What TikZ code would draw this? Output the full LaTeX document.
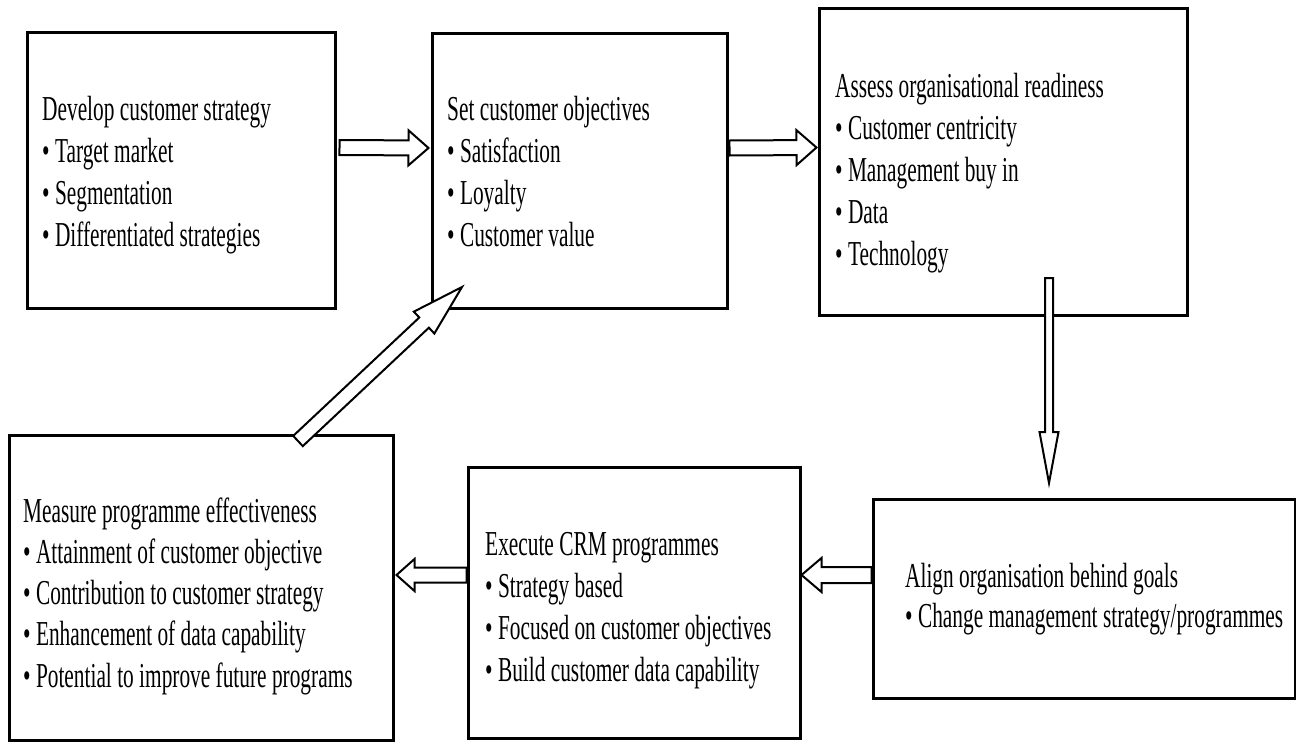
\documentclass[tikz,border=0pt]{standalone}
\usepackage{fontspec}
\usepackage{graphicx}
\setmainfont{Liberation Serif}
\usetikzlibrary{calc}
\newcommand{\boxlines}[1]{\scalebox{0.61}[1]{\begin{tabular}[t]{@{}l@{}}#1\end{tabular}}}
\tikzset{
  box/.style={draw=black, line width=3pt, inner sep=0pt, fill=none},
  txt/.style={anchor=base west, inner sep=0pt, font=\fontsize{35}{42}\selectfont},
  arrowline/.style={draw=black, fill=white, line width=2pt, line join=miter},
}
% block arrow: from, to, shaft half width, head half width, head length
\newcommand{\blockarr}[5]{%
  \coordinate (bah) at ($(#2)!#5!(#1)$);
  \draw[arrowline]
    ($(#1)!#3!90:(#2)$) -- ($(bah)!#3!90:(#2)$) -- ($(bah)!#4!90:(#2)$) --
    (#2) -- ($(bah)!#4!-90:(#2)$) -- ($(bah)!#3!-90:(#2)$) --
    ($(#1)!#3!-90:(#2)$) -- cycle;
}
\begin{document}
\begin{tikzpicture}[x=1pt, y=-1pt]
\useasboundingbox (0,0) rectangle (1296,744);

% boxes
\node[box, minimum width=308pt, minimum height=276pt] (b1) at (181,170) {};
\node[box, minimum width=295pt, minimum height=275pt] (b2) at (579.5,170.5) {};
\node[box, minimum width=368pt, minimum height=307pt] (b3) at (1003,161.5) {};
\node[box, minimum width=384pt, minimum height=305pt] (b4) at (201,587.5) {};
\node[box, minimum width=332pt, minimum height=271pt] (b5) at (634,602.5) {};
\node[box, minimum width=422pt, minimum height=199pt] (b6) at (1084,598.5) {};

% texts
\node[txt] (t1) at (42,120) {\boxlines{Develop customer strategy\\• Target market\\• Segmentation\\• Differentiated strategies}};
\node[txt] (t2) at (447,120) {\boxlines{Set customer objectives\\• Satisfaction\\• Loyalty\\• Customer value}};
\node[txt] (t3) at (835,97) {\boxlines{Assess organisational readiness\\• Customer centricity\\• Management buy in\\• Data\\• Technology}};
\node[txt, font=\fontsize{35}{41.3}\selectfont] (t4) at (23,522) {\boxlines{Measure programme effectiveness\\• Attainment of customer objective\\• Contribution to customer strategy\\• Enhancement of data capability\\• Potential to improve future programs}};
\node[txt] (t5) at (485,555) {\boxlines{Execute CRM programmes\\• Strategy based\\• Focused on customer objectives\\• Build customer data capability}};
\node[txt, font=\fontsize{35}{40}\selectfont] (t6) at (905,587) {\boxlines{Align organisation behind goals\\• Change management strategy/programmes}};

% arrow end points
\coordinate (a12s) at ($(b1.east)+(3,-22.5)$);
\coordinate (a12e) at ($(b2.west)+(-2,-22.5)$);
\coordinate (a23s) at ($(b2.east)+(1,-22.5)$);
\coordinate (a23e) at ($(b3.west)+(-1,-14)$);
\coordinate (a36s) at (1049,278);
\coordinate (a36e) at (1049,483);
\coordinate (a65s) at ($(b6.west)+(0,-23.5)$);
\coordinate (a65e) at ($(b5.east)+(0,-27.5)$);
\coordinate (a54s) at ($(b5.west)+(0,-27.5)$);
\coordinate (a54e) at ($(b4.east)+(2,-12.5)$);
\coordinate (a41s) at (298,441);
\coordinate (a41e) at (462,287);

% block arrows
\blockarr{a12s}{a12e}{7.5pt}{17.5pt}{20pt}
\blockarr{a23s}{a23e}{7.5pt}{17.5pt}{20pt}
\blockarr{a36s}{a36e}{4pt}{9.5pt}{51pt}
\blockarr{a65s}{a65e}{8pt}{17pt}{20pt}
\blockarr{a54s}{a54e}{7.5pt}{16pt}{18pt}
\blockarr{a41s}{a41e}{7pt}{15pt}{52pt}
\end{tikzpicture}
\end{document}
